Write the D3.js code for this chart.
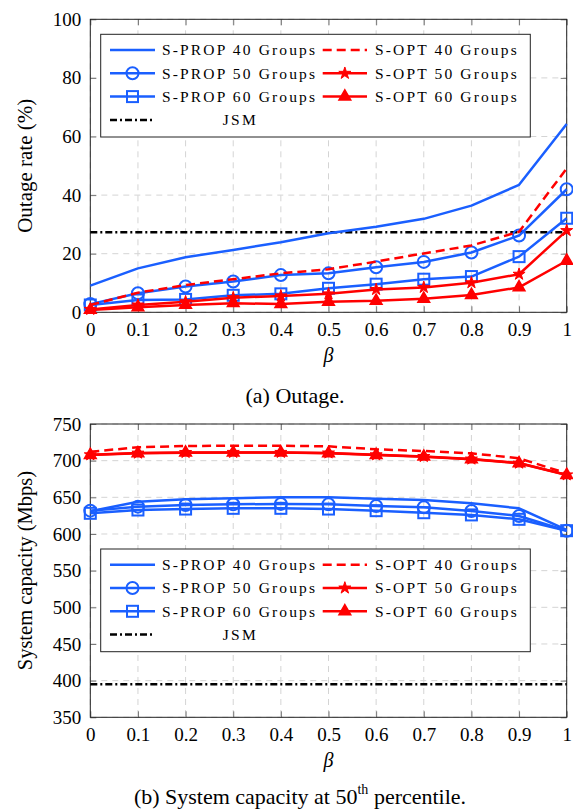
<!DOCTYPE html>
<html>
<head>
<meta charset="UTF-8">
<script src="https://cdn.jsdelivr.net/npm/d3@7"></script>
<style>
  body { margin: 0; background: #fff; }
  text { font-family: "Liberation Serif", "Times New Roman", serif; }
  .grid line { stroke: #d4d4d4; stroke-dasharray: 6,5; }
</style>
</head>
<body>
<script>
// x values (beta)
const beta = [0, 0.1, 0.2, 0.3, 0.4, 0.5, 0.6, 0.7, 0.8, 0.9, 1];
const xTicks = ["0", "0.1", "0.2", "0.3", "0.4", "0.5", "0.6", "0.7", "0.8", "0.9", "1"];

// (a) outage rate (%)
const outProp40 = [9.1, 15.0, 18.8, 21.3, 23.9, 27.0, 29.2, 31.9, 36.4, 43.5, 64.3];
const outProp50 = [2.8, 6.5, 8.8, 10.5, 12.7, 13.3, 15.4, 17.2, 20.4, 26.2, 42.0];
const outProp60 = [2.5, 4.2, 4.4, 5.8, 6.3, 8.2, 9.6, 11.3, 12.2, 19.0, 32.1];
const outOpt40  = [2.5, 6.7, 9.3, 11.3, 13.3, 14.7, 17.3, 20.1, 22.8, 27.5, 49.1];
const outOpt50  = [1.0, 2.5, 3.6, 5.0, 5.6, 6.3, 7.8, 8.5, 10.1, 13.0, 27.9];
const outOpt60  = [0.8, 1.7, 2.5, 3.1, 2.8, 3.6, 3.9, 4.6, 5.9, 8.5, 17.6];
const outJSM = 27.3;
const outTicks = [0, 20, 40, 60, 80, 100];

// (b) system capacity (Mbps)
const capProp40 = [631, 644, 647.3, 648.7, 650, 650, 648.1, 646.4, 641.9, 635, 605.5];
const capProp50 = [631.8, 637.3, 639.5, 640.5, 641, 640.5, 638.2, 636.4, 631.4, 624.5, 604.5];
const capProp60 = [628.2, 632.7, 634, 635, 635, 634, 631.8, 629, 626, 620, 604.5];
const capOpt40  = [712.2, 718.2, 720, 720.4, 720.4, 719.5, 715.5, 713.2, 710, 703.2, 682.8];
const capOpt50  = [708, 710.3, 711.2, 711.3, 711.3, 710.5, 708, 705.7, 702.2, 696.7, 680.6];
const capOpt60  = [707.7, 710, 710.9, 711, 711, 710, 707.7, 705.4, 701.9, 696.4, 680.4];
const capJSM = 395;
const capTicks = [350, 400, 450, 500, 550, 600, 650, 700, 750];

const labels = ["S-PROP 40 Groups", "S-PROP 50 Groups", "S-PROP 60 Groups",
                "S-OPT 40 Groups", "S-OPT 50 Groups", "S-OPT 60 Groups", "JSM"];

const BLUE = "#1a5fff", RED = "#ff0000";

const svg = d3.select("body").append("svg")
  .attr("width", 573).attr("height", 809);

function styleOf(i) {
  // line + marker style by series index
  return [
    {color: BLUE, mark: null},
    {color: BLUE, mark: "circle"},
    {color: BLUE, mark: "square"},
    {color: RED, mark: null, dash: "9,5"},
    {color: RED, mark: "star"},
    {color: RED, mark: "triangle"}
  ][i];
}

function drawMark(g, type, color, cx, cy) {
  if (!type) return;
  if (type === "circle") {
    g.append("circle").attr("cx", cx).attr("cy", cy).attr("r", 6)
      .attr("fill", "none").attr("stroke", color).attr("stroke-width", 2);
  } else if (type === "square") {
    g.append("rect").attr("x", cx - 5.5).attr("y", cy - 5.5).attr("width", 11).attr("height", 11)
      .attr("fill", "none").attr("stroke", color).attr("stroke-width", 2);
  } else if (type === "star") {
    g.append("path").attr("d", d3.symbol(d3.symbolStar, 45)())
      .attr("transform", `translate(${cx},${cy})`)
      .attr("fill", color).attr("stroke", color).attr("stroke-width", 1);
  } else if (type === "triangle") {
    g.append("path").attr("d", d3.symbol(d3.symbolTriangle, 60)())
      .attr("transform", `translate(${cx},${cy})`)
      .attr("fill", color).attr("stroke", color).attr("stroke-width", 1.5);
  }
}

function panel(opt) {
  const x = d3.scaleLinear().domain([0, 1]).range([90.3, 566.7]);
  const y = d3.scaleLinear().domain(opt.domain).range([opt.bottom, opt.top]);
  const g = svg.append("g");
  const left = 90.3, right = 566.7;

  // grid
  const grid = g.append("g").attr("class", "grid");
  grid.selectAll(".gx").data(beta).enter().append("line")
    .attr("x1", d => x(d)).attr("x2", d => x(d))
    .attr("y1", opt.top).attr("y2", opt.bottom);
  grid.selectAll(".gy").data(opt.ticks).enter().append("line")
    .attr("x1", left).attr("x2", right)
    .attr("y1", d => y(d)).attr("y2", d => y(d));

  // axes (inner ticks on all sides)
  const ax = g.append("g");
  ax.append("g").attr("transform", `translate(0,${opt.bottom})`)
    .call(d3.axisBottom(x).tickValues(beta).tickFormat((d, i) => xTicks[i]).tickSizeInner(-6).tickSizeOuter(0).tickPadding(10));
  ax.append("g").attr("transform", `translate(0,${opt.top})`)
    .call(d3.axisTop(x).tickValues(beta).tickFormat("").tickSizeInner(-6).tickSizeOuter(0));
  ax.append("g").attr("transform", `translate(${left},0)`)
    .call(d3.axisLeft(y).tickValues(opt.ticks).tickSizeInner(-6).tickSizeOuter(0).tickPadding(9));
  ax.append("g").attr("transform", `translate(${right},0)`)
    .call(d3.axisRight(y).tickValues(opt.ticks).tickFormat("").tickSizeInner(-6).tickSizeOuter(0));
  ax.selectAll(".domain").remove();
  ax.selectAll(".tick line").attr("stroke", "#777");
  ax.selectAll("text").attr("font-family", "Liberation Serif").attr("font-size", 19).attr("fill", "#000");

  g.append("rect").attr("x", left).attr("y", opt.top)
    .attr("width", right - left).attr("height", opt.bottom - opt.top)
    .attr("fill", "none").attr("stroke", "#222").attr("stroke-width", 1);

  // JSM
  g.append("line").attr("x1", left).attr("x2", right)
    .attr("y1", y(opt.jsm)).attr("y2", y(opt.jsm))
    .attr("stroke", "#000").attr("stroke-width", 2.5).attr("stroke-dasharray", "7,3,2,3");

  const line = d3.line().x((d, i) => x(beta[i])).y(d => y(d));
  opt.series.forEach((s, i) => {
    const st = styleOf(i);
    g.append("path").attr("d", line(s)).attr("fill", "none")
      .attr("stroke", st.color).attr("stroke-width", 2.5)
      .attr("stroke-linejoin", "round")
      .attr("stroke-dasharray", st.dash || null);
    const mg = g.append("g");
    s.forEach((v, j) => drawMark(mg, st.mark, st.color, x(beta[j]), y(v)));
  });

  // legend
  const lg = g.append("g").attr("font-family", "Liberation Serif");
  const ly = opt.legendTop;
  lg.append("rect").attr("x", 100.7).attr("y", ly).attr("width", 429.6).attr("height", 102.7)
    .attr("fill", "#fff").attr("stroke", "#222").attr("stroke-width", 1);
  const cols = [{x0: 110, x1: 155, tx: 162, w: 153}, {x0: 322.7, x1: 367, tx: 375, w: 141.7}];
  for (let i = 0; i < 6; i++) {
    const c = cols[i < 3 ? 0 : 1];
    const row = i % 3;
    const cy = ly + 15.7 + row * 23.3;
    const st = styleOf(i);
    lg.append("line").attr("x1", c.x0).attr("x2", c.x1).attr("y1", cy).attr("y2", cy)
      .attr("stroke", st.color).attr("stroke-width", 2.5)
      .attr("stroke-dasharray", st.dash || null);
    drawMark(lg, st.mark, st.color, (c.x0 + c.x1) / 2, cy);
    lg.append("text").attr("x", c.tx).attr("y", cy).attr("dy", "0.35em")
      .attr("font-family", "Liberation Serif")
      .attr("font-size", 15.5).attr("textLength", c.w).attr("lengthAdjust", "spacing")
      .text(labels[i]);
  }
  const jy = ly + 15.7 + 3 * 23.3;
  lg.append("line").attr("x1", 110).attr("x2", 155).attr("y1", jy).attr("y2", jy)
    .attr("stroke", "#000").attr("stroke-width", 2.5).attr("stroke-dasharray", "7,3,2,3");
  lg.append("text").attr("x", 222.7).attr("y", jy).attr("dy", "0.35em")
    .attr("font-family", "Liberation Serif")
    .attr("font-size", 15.5).attr("textLength", 33).attr("lengthAdjust", "spacing")
    .text(labels[6]);

  // axis titles
  svg.append("text")
    .attr("transform", `translate(25,${(opt.top + opt.bottom) / 2}) rotate(-90)`)
    .attr("text-anchor", "middle").attr("dy", "0.35em").attr("font-size", opt.ysize)
    .text(opt.ylabel);
  svg.append("text").attr("x", (left + right) / 2).attr("y", opt.bottom + 43)
    .attr("text-anchor", "middle").attr("dy", "0.35em")
    .attr("font-size", 20).attr("font-style", "italic").attr("font-family", "DejaVu Serif")
    .text("β");
}

panel({
  domain: [0, 100], ticks: outTicks, top: 19.3, bottom: 312.3, jsm: outJSM,
  series: [outProp40, outProp50, outProp60, outOpt40, outOpt50, outOpt60],
  legendTop: 34.3, ylabel: "Outage rate (%)", ysize: 21
});
panel({
  domain: [350, 750], ticks: capTicks, top: 424, bottom: 717.3, jsm: capJSM,
  series: [capProp40, capProp50, capProp60, capOpt40, capOpt50, capOpt60],
  legendTop: 549, ylabel: "System capacity (Mbps)", ysize: 20.5
});

// captions
svg.append("text").attr("x", 295).attr("y", 395).attr("text-anchor", "middle")
  .attr("dy", "0.35em").attr("font-size", 22).text("(a)  Outage.");
const cap = svg.append("text").attr("x", 300).attr("y", 796).attr("text-anchor", "middle")
  .attr("dy", "0.35em").attr("font-size", 22);
cap.append("tspan").text("(b)  System capacity at 50");
cap.append("tspan").attr("font-size", 14).attr("dy", "-0.7em").text("th");
cap.append("tspan").attr("dy", "0.45em").text(" percentile.");
</script>
</body>
</html>
